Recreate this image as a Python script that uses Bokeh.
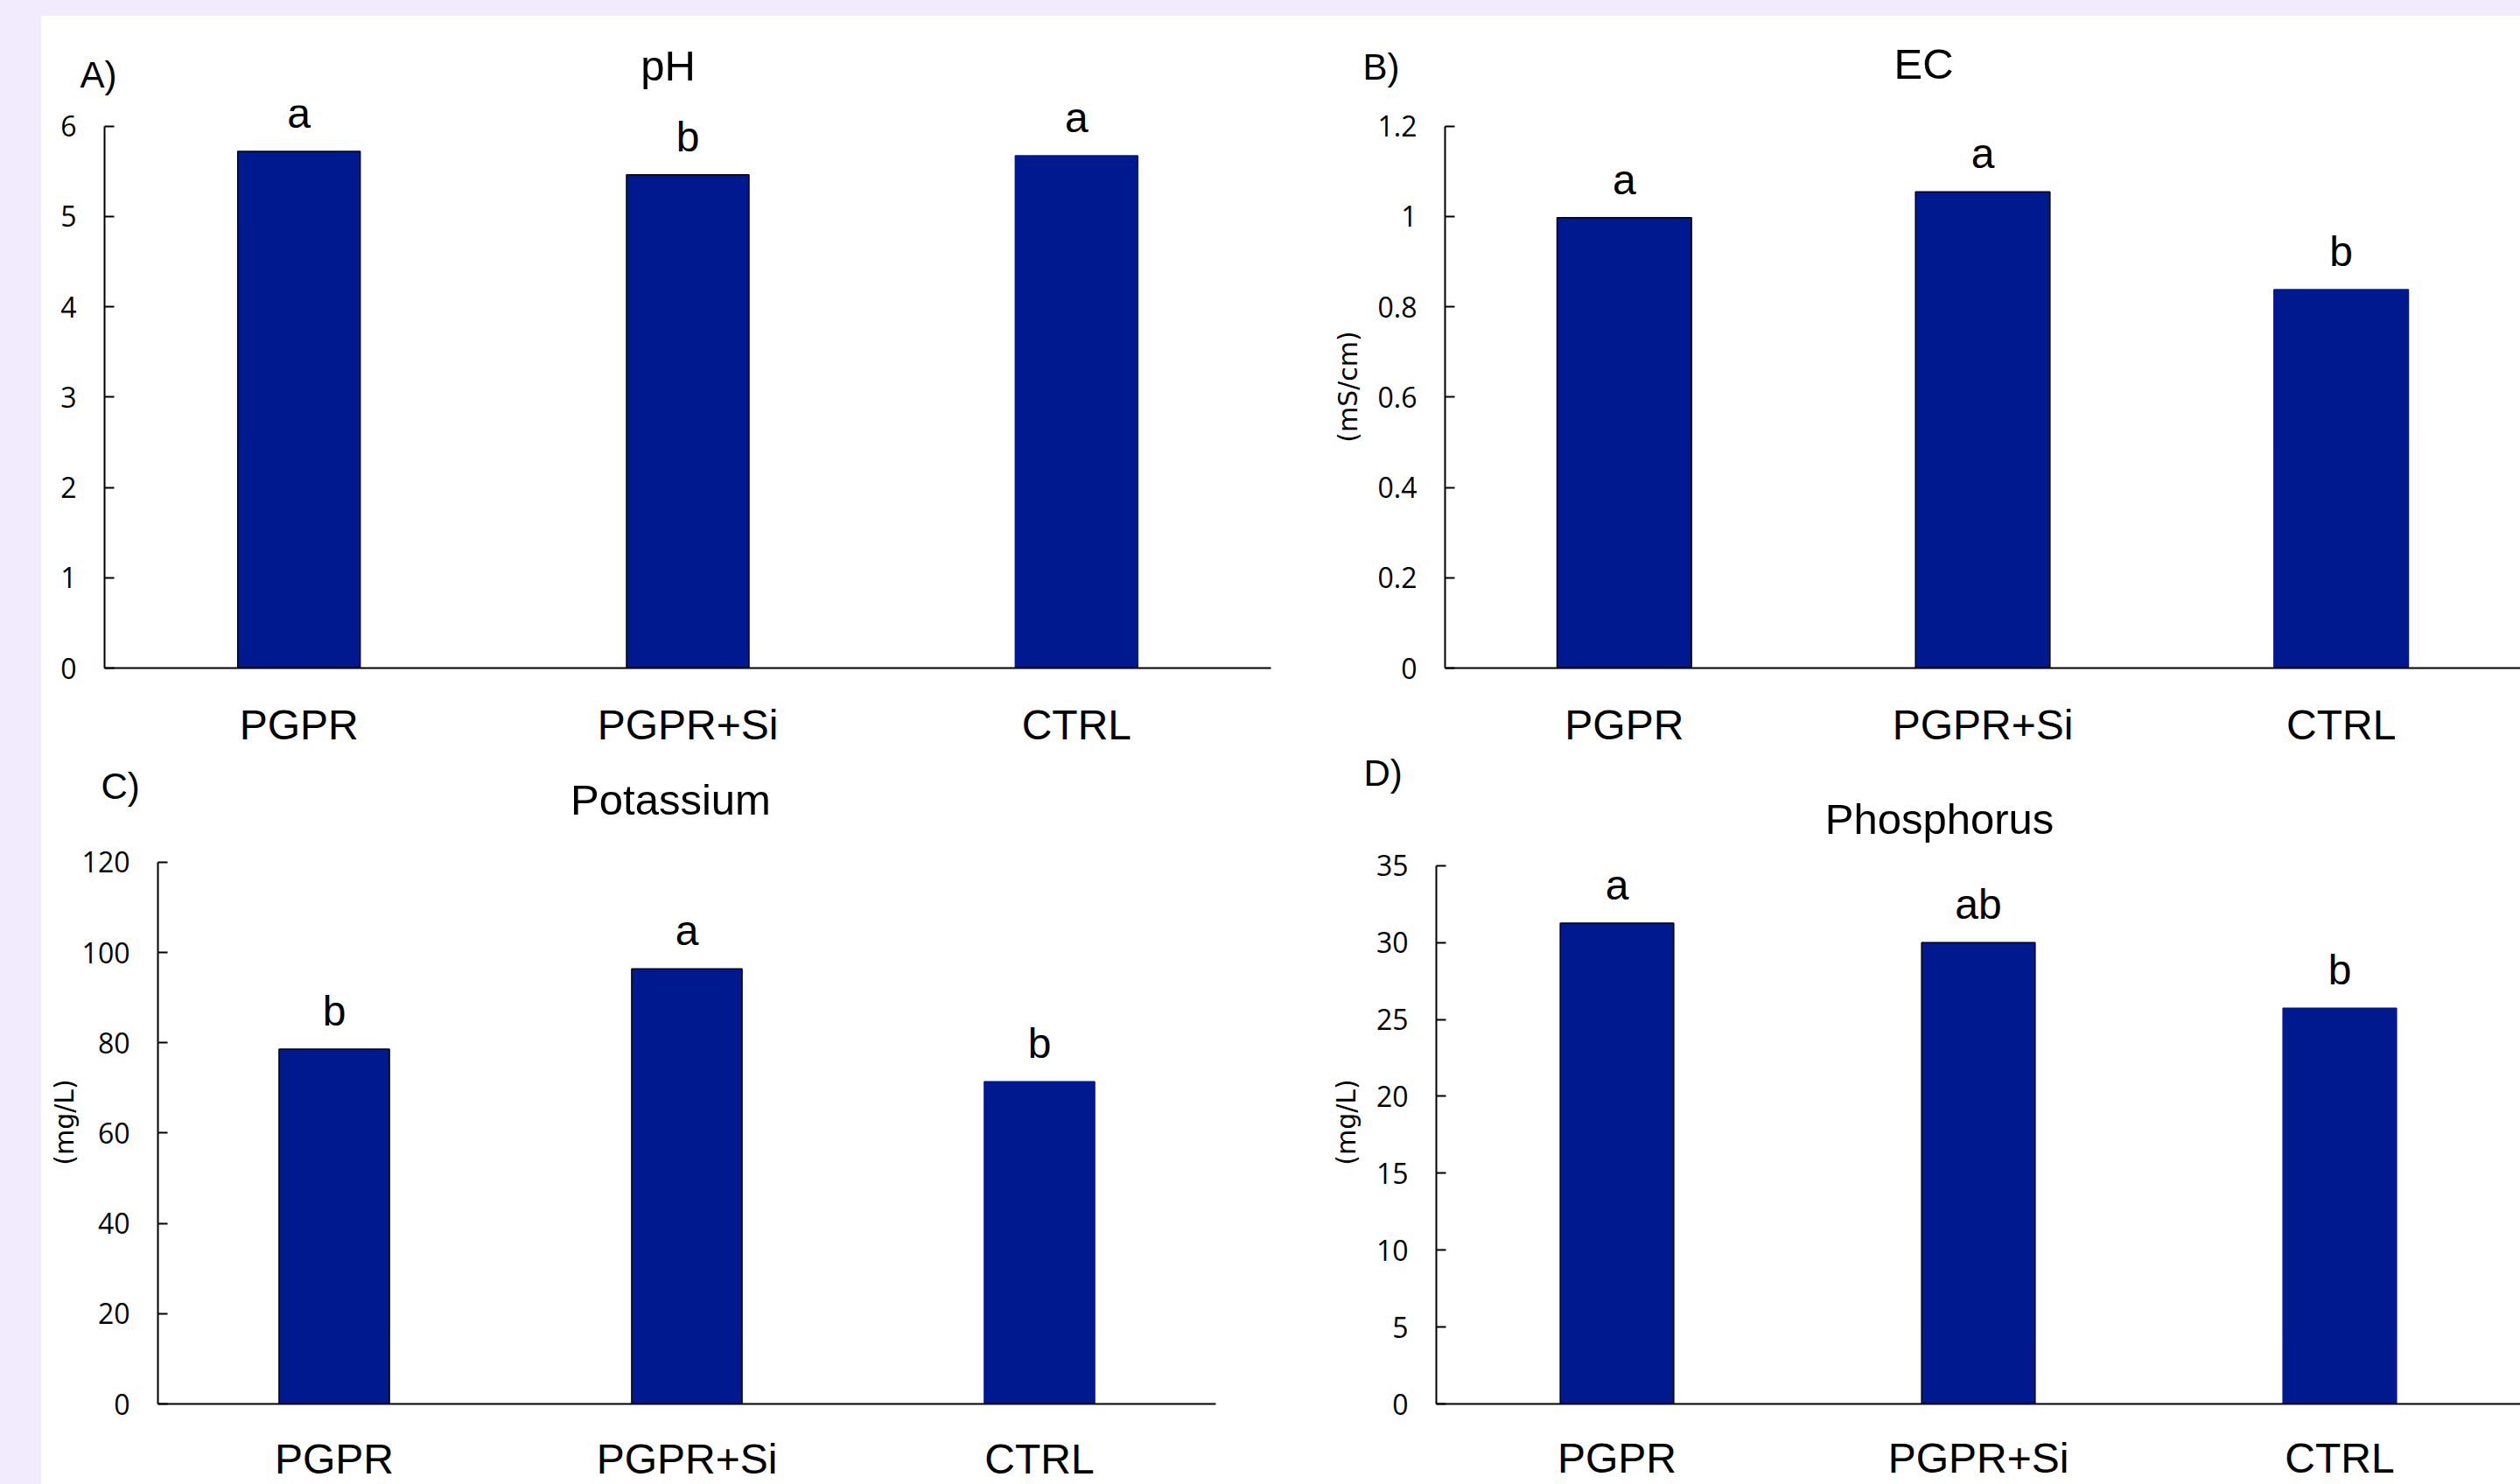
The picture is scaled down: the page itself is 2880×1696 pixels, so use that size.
from bokeh.plotting import figure
from bokeh.models import (ColumnDataSource, FactorRange, Range1d, LabelSet, Label,
                          Spacer, FixedTicker, CustomJSTickFormatter)
from bokeh.layouts import row, column
from bokeh.embed import file_html
from bokeh.resources import INLINE
from bokeh.core.properties import value

# ---------------- data ----------------
categories = ["PGPR", "PGPR+Si", "CTRL"]

ph_values = [5.72, 5.46, 5.67]
ph_letters = ["a", "b", "a"]
ph_ticks = [0, 1, 2, 3, 4, 5, 6]

ec_values = [0.997, 1.054, 0.838]
ec_letters = ["a", "a", "b"]
ec_ticks = [0, 0.2, 0.4, 0.6, 0.8, 1.0, 1.2]

k_values = [78.6, 96.4, 71.4]
k_letters = ["b", "a", "b"]
k_ticks = [0, 20, 40, 60, 80, 100, 120]

p_values = [31.26, 30.0, 25.73]
p_letters = ["a", "ab", "b"]
p_ticks = [0, 5, 10, 15, 20, 25, 30, 35]

# ---------------- style ----------------
BAR = "#00198F"
OUTLINES = ["black", "black", BAR]
SANS = "Liberation Sans"
TAG_FS = 42
TITLE_FS = 49
TOP_BORDER = 102   # room above the frame holding the panel tag and title


def mid_offset(top_tick_px, baseline_px, fs):
    """pixel offset (upwards) from the top tick to the centre of a text box."""
    return top_tick_px - (baseline_px - 0.3465 * fs)


def make_panel(width, height, left, right, bottom, top_tick_px, values, letters, ticks,
               bar_width, title, tag, tag_pos, title_pos, ylabel=None, ylabel_standoff=10,
               cat_standoff=38):
    """top_tick_px: distance (px) from the figure top down to the highest tick.
    tag_pos / title_pos: (x relative to frame left, baseline y relative to figure top)."""
    ymax = ticks[-1]
    frame_h = height - bottom - TOP_BORDER
    t = top_tick_px - TOP_BORDER
    y_end = ymax * frame_h / (frame_h - t)
    p = figure(x_range=FactorRange(factors=categories, range_padding=0),
               y_range=Range1d(0, y_end), width=width, height=height, title=None,
               output_backend="svg", toolbar_location=None,
               min_border_left=left, min_border_right=right,
               min_border_top=TOP_BORDER, min_border_bottom=bottom,
               background_fill_color="white", border_fill_color="white",
               outline_line_color=None)
    src = ColumnDataSource(dict(cat=categories, val=values, lab=letters, line=OUTLINES))
    p.vbar(x="cat", top="val", width=bar_width, source=src, fill_color=BAR,
           line_color="line", line_width=1.5)

    p.xgrid.grid_line_color = None
    p.ygrid.grid_line_color = None

    xa = p.xaxis[0]
    xa.axis_line_color = "black"
    xa.axis_line_width = 2
    xa.major_tick_in = 0
    xa.major_tick_out = 0
    xa.minor_tick_line_color = None
    xa.major_label_standoff = cat_standoff
    xa.major_label_text_font = SANS
    xa.major_label_text_font_size = "48px"
    xa.major_label_text_color = "black"

    ya = p.yaxis[0]
    ya.bounds = (0, ymax)
    ya.ticker = FixedTicker(ticks=ticks)
    ya.formatter = CustomJSTickFormatter(code="return String(Number(tick.toFixed(2)))")
    ya.axis_line_color = "black"
    ya.axis_line_width = 2
    ya.major_tick_line_color = "black"
    ya.major_tick_line_width = 2
    ya.major_tick_in = 11
    ya.major_tick_out = 0
    ya.minor_tick_line_color = None
    ya.major_label_standoff = 32
    ya.major_label_text_font = "Open Sans"
    ya.major_label_text_font_size = "32px"
    ya.major_label_text_color = "black"
    if ylabel:
        ya.axis_label = ylabel
        ya.axis_label_text_font = "DejaVu Sans"
        ya.axis_label_text_font_size = "30px"
        ya.axis_label_text_font_style = "normal"
        ya.axis_label_text_color = "black"
        ya.axis_label_standoff = ylabel_standoff

    p.add_layout(LabelSet(x="cat", y="val", text="lab", source=src, y_offset=27,
                          text_align="center", text_baseline="alphabetic",
                          text_font=value(SANS), text_font_size="48px", text_color="black"))
    # panel tag and title live in the top side panel so they are not clipped by the frame
    p.add_layout(Label(x=0, y=ymax, x_offset=tag_pos[0],
                       y_offset=mid_offset(top_tick_px, tag_pos[1], TAG_FS), text=tag,
                       text_align="left", text_baseline="middle",
                       text_font=SANS, text_font_size=f"{TAG_FS}px", text_color="black"), "above")
    p.add_layout(Label(x=0, y=ymax, x_offset=title_pos[0],
                       y_offset=mid_offset(top_tick_px, title_pos[1], TITLE_FS), text=title,
                       text_align="center", text_baseline="middle",
                       text_font=SANS, text_font_size=f"{TITLE_FS}px", text_color="black"), "above")
    return p


pA = make_panel(1433, 840, 72, 28, 95, 125.5, ph_values, ph_letters, ph_ticks, 0.315,
                "pH", "A)", (-28, 82), (644, 73))
pB = make_panel(1400, 840, 171, 0, 95, 125.5, ec_values, ec_letters, ec_ticks, 0.375,
                "EC", "B)", (-94, 73), (547, 71), ylabel="(mS/cm)", ylabel_standoff=14)
pC = make_panel(1433, 838, 133, 91, 90, 127, k_values, k_letters, k_ticks, 0.313,
                "Potassium", "C)", (-65, 55), (586, 73), ylabel="(mg/L)", ylabel_standoff=0,
                cat_standoff=36)
pD = make_panel(1400, 838, 161, 0, 89, 131, p_values, p_letters, p_ticks, 0.314,
                "Phosphorus", "D)", (-83, 40), (575, 94.5), ylabel="(mg/L)", ylabel_standoff=14,
                cat_standoff=35)

panels = column(row(pA, pB), row(pC, pD), styles={"background-color": "white"})
layout = column(Spacer(width=2880, height=18),
                row(Spacer(width=47, height=1678), panels))

TEMPLATE = """{% block postamble %}<style>
html, body { margin: 0; padding: 0; background-color: #F1EBFD; overflow: hidden; }
</style>{% endblock %}"""

open("out.html", "w").write(file_html(layout, INLINE, title="Soil properties", template=TEMPLATE))
